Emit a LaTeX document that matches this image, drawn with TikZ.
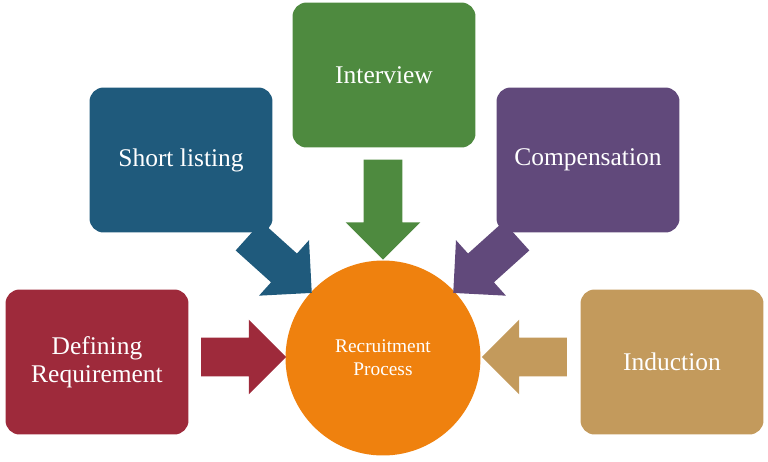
\documentclass[tikz,border=0pt]{standalone}
\usepackage{fontspec}
\setmainfont{Liberation Serif}
\definecolor{reqred}{HTML}{9E2A3B}
\definecolor{shortblue}{HTML}{1F5A7C}
\definecolor{intgreen}{HTML}{4E8A3F}
\definecolor{comppurple}{HTML}{61497B}
\definecolor{indtan}{HTML}{C39A5C}
\definecolor{recorange}{HTML}{EF810E}
\usetikzlibrary{shapes.arrows, shapes.geometric, positioning}

\begin{document}
\begin{tikzpicture}[
  x=0.02cm, y=-0.02cm,
  stage/.style={rounded corners=8pt, minimum width=3.66cm, minimum height=2.9cm, text=white, font=\fontsize{14.5}{16}\selectfont, align=center},
  blockarr/.style={single arrow, inner xsep=0pt, inner ysep=0.38cm, single arrow head extend=0.36cm, single arrow head indent=0pt, font=\fontsize{1}{1}\selectfont},
]
\useasboundingbox (0,0) rectangle (768,461);

% Stages
\node[stage, fill=reqred] (req) at (97,362) {Defining\\Requirement};
\node[stage, fill=shortblue] (short) at (181,160) {Short listing};
\node[stage, fill=intgreen] (interview) at (384,75) {Interview};
\node[stage, fill=comppurple] (comp) at (588,160) {Compensation};
\node[stage, fill=indtan] (induction) at (672,362) {Induction};

% Centre
\node[circle, fill=recorange, minimum size=3.9cm, text=white, align=center, font=\fontsize{11}{13}\selectfont] (recruit) at (383,358) {Recruitment\\Process};

% Arrows
\node[blockarr, fill=reqred, minimum height=1.7cm] (areq) at (234,357) {};
\node[blockarr, fill=indtan, minimum height=1.7cm, rotate=180] (aind) at (534,357) {};
\node[blockarr, fill=intgreen, minimum height=2cm, rotate=270] (aint) at (383,200) {};
\node[blockarr, fill=shortblue, minimum height=1.7cm, rotate=-42] (ashort) at (273,258) {};
\node[blockarr, fill=comppurple, minimum height=1.7cm, rotate=222] (acomp) at (492,258) {};

\end{tikzpicture}
\end{document}
